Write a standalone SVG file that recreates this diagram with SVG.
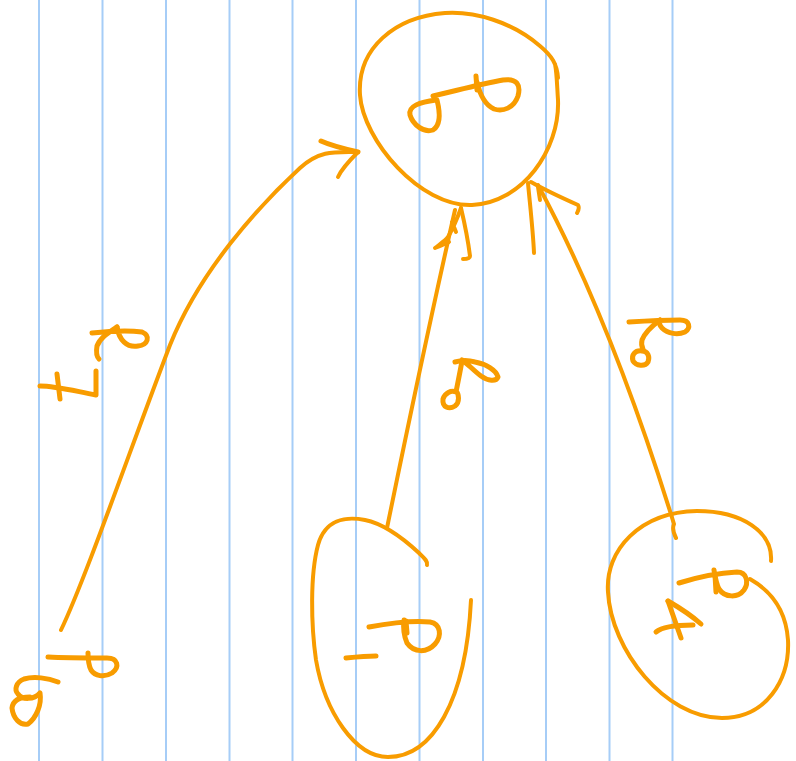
<svg xmlns="http://www.w3.org/2000/svg" width="796" height="761" viewBox="0 0 796 761">
  <style>
    .rule { stroke: #a6cdf7; stroke-width: 2; fill: none; }
    .ink { stroke: #f89c00; stroke-width: 4; fill: none; stroke-linecap: round; stroke-linejoin: round; }
    .mark { stroke: #f89c00; stroke-width: 5; fill: none; stroke-linecap: round; stroke-linejoin: round; }
  </style>
  <rect width="796" height="761" fill="#ffffff"/>

  <!-- ruled paper background -->
  <g id="ruling">
    <line class="rule" x1="39" y1="0" x2="39" y2="761"/>
    <line class="rule" x1="102.5" y1="0" x2="102.5" y2="761"/>
    <line class="rule" x1="166" y1="0" x2="166" y2="761"/>
    <line class="rule" x1="229.5" y1="0" x2="229.5" y2="761"/>
    <line class="rule" x1="292.5" y1="0" x2="292.5" y2="761"/>
    <line class="rule" x1="356" y1="0" x2="356" y2="761"/>
    <line class="rule" x1="419.5" y1="0" x2="419.5" y2="761"/>
    <line class="rule" x1="483" y1="0" x2="483" y2="761"/>
    <line class="rule" x1="546" y1="0" x2="546" y2="761"/>
    <line class="rule" x1="609.5" y1="0" x2="609.5" y2="761"/>
    <line class="rule" x1="672.5" y1="0" x2="672.5" y2="761"/>
  </g>

  <!-- top node -->
  <g id="node-top">
    <path class="ink" d="M 558 78 C 557 64 552 56 540 46 C 512 22 475 11 445 13 C 395 17 357 48 360 95 C 363 140 420 207 472 205 C 522 203 560 150 558 100 C 557 86 557 74 555 64"/>
    <path class="mark" d="M 433 96 C 455 91 480 84 503 80 C 517 78 521 85 518 96 C 514 108 503 112 494 109 C 485 105 480 95 477 82"/>
    <path class="mark" d="M 476 76 L 477 90"/>
    <path class="mark" d="M 437 100 C 440 112 441 125 433 130 C 424 133 413 125 410 115 C 408 106 420 102 436 100"/>
  </g>

  <!-- bottom node -->
  <g id="node-bottom">
    <path class="ink" d="M 427 565 C 428 561 424 558 419 553 C 405 540 385 524 365 520 C 345 516 325 520 318 545 C 310 575 311 625 316 660 C 325 712 355 757 388 757 C 432 757 466 702 471 600"/>
    <path class="mark" d="M 369 627 C 385 624 410 620 430 622 C 441 624 442 636 435 644 C 427 653 414 653 407 643 C 404 636 403 628 404 620"/>
    <path class="mark" d="M 406 621 L 407 633"/>
    <path class="mark" d="M 346 658 C 356 657 368 656 376 656"/>
  </g>

  <!-- right node -->
  <g id="node-right">
    <path class="ink" d="M 771 561 C 773 532 742 511 697 511 C 640 512 605 550 608 592 C 611 650 665 718 722 718 C 766 718 790 680 788 640 C 786 610 771 591 750 579"/>
    <path class="mark" d="M 679 583 C 695 578 715 573 737 572 C 747 572 749 583 744 590 C 738 598 725 598 719 589 C 716 583 715 576 714 570"/>
    <path class="mark" d="M 715 575 L 716 592"/>
    <path class="mark" d="M 668 601 L 681 638"/>
    <path class="mark" d="M 668 601 C 680 608 692 616 701 624"/>
    <path class="mark" d="M 656 632 C 662 627 678 625 693 625"/>
  </g>

  <!-- connectors with hand-drawn labels -->
  <g id="connectors">
    <!-- left edge: bottom-left to top node -->
    <path class="ink" d="M 61 630 C 85 580 130 450 170 345 C 200 270 260 205 300 168 C 320 150 335 152 357 152"/>
    <path class="mark" d="M 321 141 C 332 146 345 149 358 152"/>
    <path class="ink" d="M 358 152 C 350 160 342 168 338 177"/>
    <!-- middle edge: bottom node to top node -->
    <path class="ink" d="M 387 528 C 405 440 430 320 455 210"/>
    <path class="ink" d="M 461 208 C 465 225 468 240 470 256 C 470 258 467 259 463 259"/>
    <path class="ink" d="M 461 208 C 456 222 452 230 448 237 C 445 241 440 244 435 248 C 440 246 445 244 449 242 M 452 222 L 456 232"/>
    <!-- right edge: right node to top node -->
    <path class="ink" d="M 676 538 C 673 532 672 528 674 524 C 645 430 600 300 538 185"/>
    <path class="ink" d="M 528 183 C 530 205 533 230 534 253"/>
    <path class="ink" d="M 531 182 C 545 190 560 197 578 205 C 580 208 578 211 577 213"/>
    <path class="ink" d="M 538 187 L 540 200"/>

    <path class="mark" d="M 92 333 C 110 331 128 330 142 332 C 151 336 148 345 138 346 C 127 348 119 340 117 327"/>
    <path class="mark" d="M 117 327 C 108 333 100 338 97 346 C 96 352 97 357 99 359"/>
    <path class="mark" d="M 40 386 C 55 386 70 390 96 395 C 96 385 96 377 96 371"/>
    <path class="mark" d="M 57 374 C 58 382 59 391 60 399"/>

    <path class="mark" d="M 48 657 C 65 658 88 658 107 658 C 118 658 120 667 112 673 C 104 678 95 676 91 670 C 88 664 88 658 88 653"/>
    <path class="mark" d="M 58 682 C 48 678 34 676 24 679 C 16 682 14 690 18 694 C 22 700 34 700 40 693 C 42 705 36 718 28 724 C 20 726 13 718 12 708 C 13 700 20 697 30 697"/>

    <path class="mark" d="M 455 362 C 462 360 468 360 475 362 C 486 364 496 370 498 377 C 496 382 488 381 481 376 C 473 370 467 363 462 360"/>
    <path class="mark" d="M 462 361 C 460 372 458 382 456 392 C 451 390 445 393 443 399 C 442 407 449 410 455 406 C 460 402 459 394 456 391"/>

    <path class="mark" d="M 629 322 C 645 321 665 320 680 320 C 690 320 691 328 685 332 C 678 335 668 334 662 328 C 660 326 659 323 660 320"/>
    <path class="mark" d="M 660 320 C 652 326 645 332 642 340 C 641 344 642 347 643 349"/>
    <path class="mark" d="M 642 351 C 635 350 631 355 633 361 C 636 366 645 367 648 362 C 650 357 648 351 642 351"/>
  </g>
</svg>
